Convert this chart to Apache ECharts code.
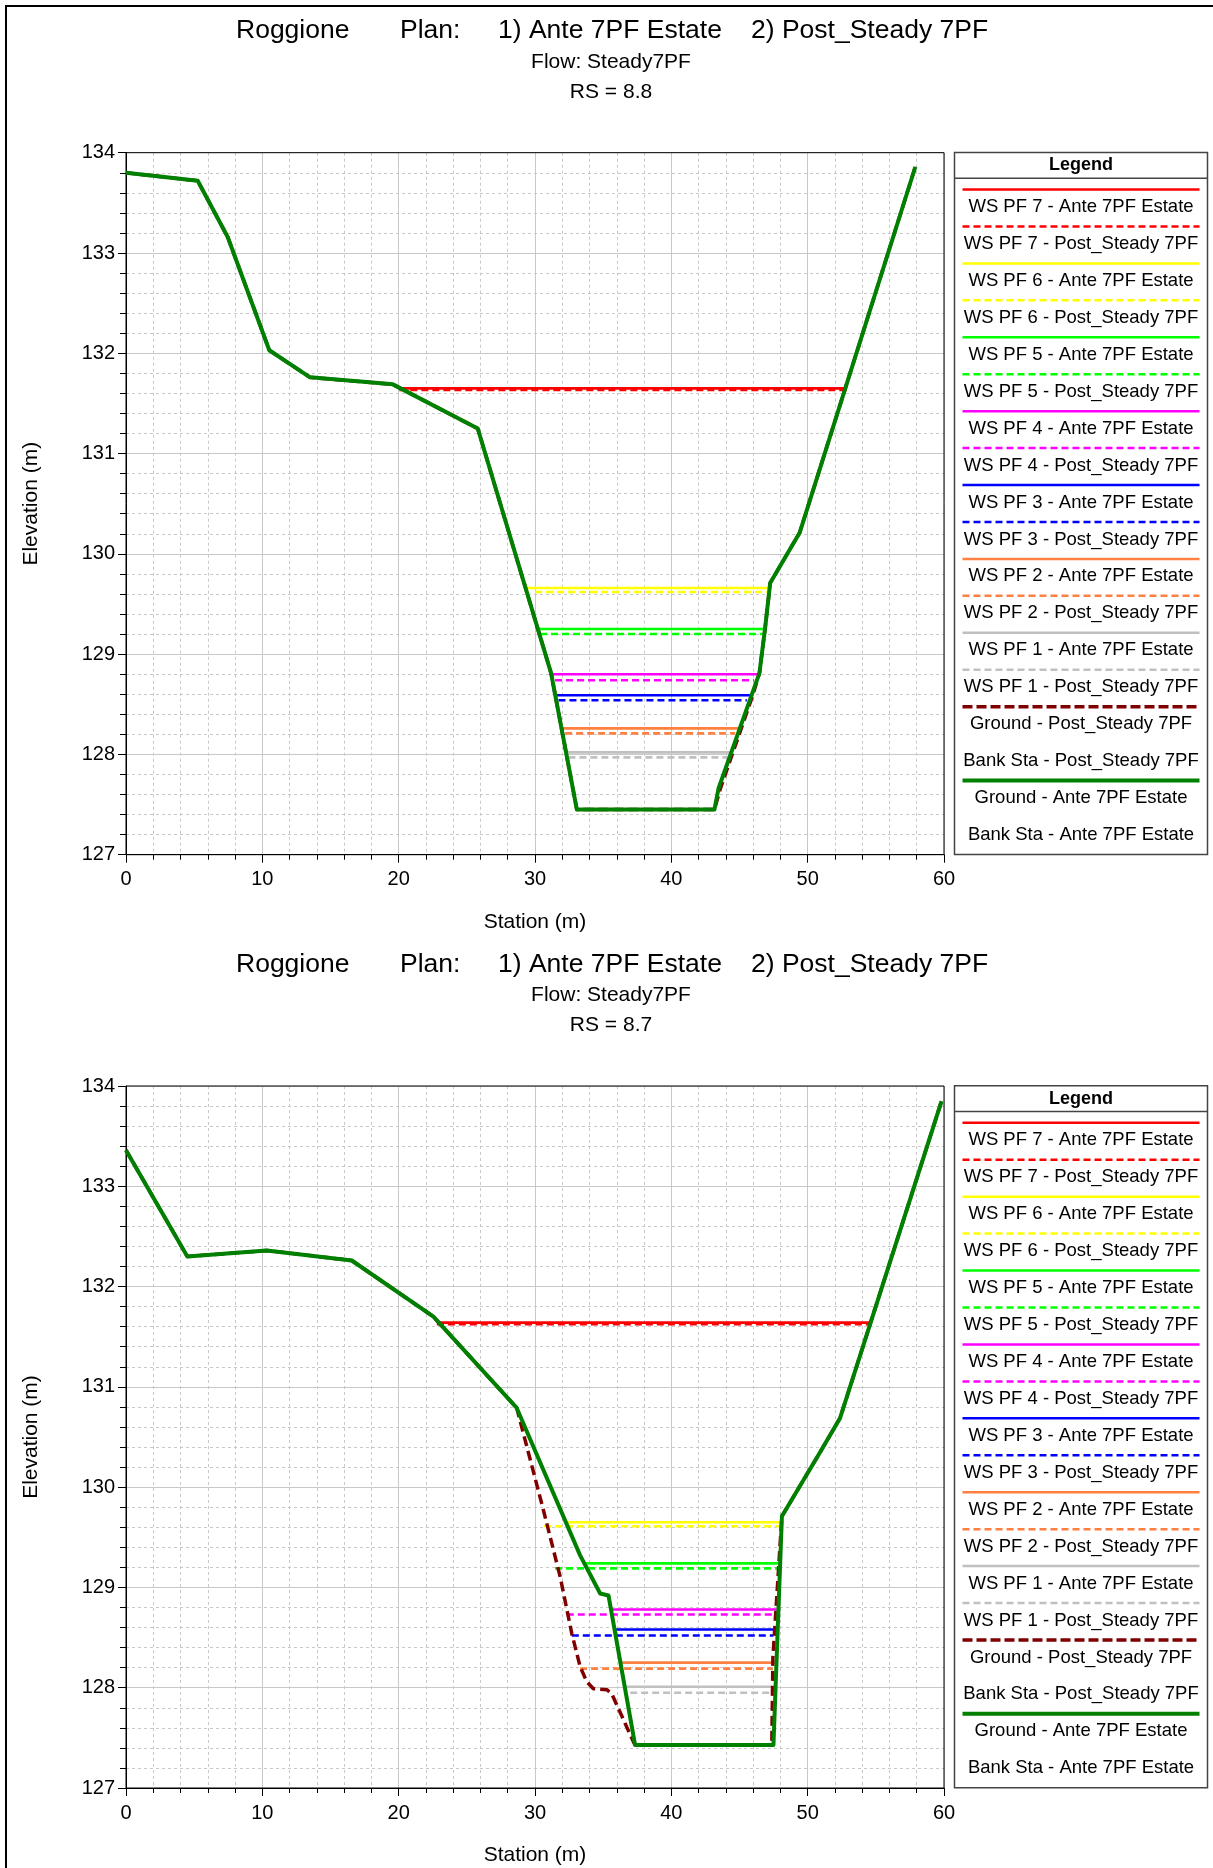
<!DOCTYPE html>
<html>
<head>
<meta charset="utf-8">
<title>Roggione - RS 8.8 / 8.7</title>
<script src="https://cdn.jsdelivr.net/npm/echarts@6/dist/echarts.min.js"></script>
<style>
  html, body { margin: 0; padding: 0; background: #fff; }
  #chart { width: 1213px; height: 1868px; }
</style>
</head>
<body>
<div id="chart"></div>
<script>
const FONT = '"Liberation Sans", Arial, Helvetica, sans-serif';

// Axis ranges: [min, max, interval]
const stationAxis = [0, 60, 10];
const elevationAxis = [127, 134, 1];

// River stations shown, top to bottom
const riverStations = ['8.8', '8.7'];

// Profiles, highest first
const profiles = ['PF 7', 'PF 6', 'PF 5', 'PF 4', 'PF 3', 'PF 2', 'PF 1'];
const profileColors = ['#ff0000', '#ffff00', '#00ff00', '#ff00ff', '#0000ff', '#ff8040', '#c0c0c0'];

// Ground profiles [station, elevation] - RS 8.8
const groundAnte88 = [
  [0, 133.80], [5.26, 133.72], [7.46, 133.16], [10.51, 132.03], [13.5, 131.76],
  [19.57, 131.69], [25.8, 131.25], [31.18, 128.81], [33.07, 127.45], [43.16, 127.45],
  [43.46, 127.66], [46.46, 128.81], [46.88, 129.26], [47.25, 129.71], [49.41, 130.21],
  [57.9, 133.86]
];
const groundPost88 = [
  [0, 133.80], [5.26, 133.72], [7.46, 133.16], [10.51, 132.03], [13.5, 131.76],
  [19.57, 131.69], [25.8, 131.25], [31.18, 128.81], [33.07, 127.45], [43.16, 127.45],
  [43.6, 127.66], [46.0, 128.6], [46.46, 128.81], [46.88, 129.26], [47.25, 129.71],
  [49.41, 130.21], [57.9, 133.86]
];

// Ground profiles [station, elevation] - RS 8.7
const groundAnte87 = [
  [0, 133.36], [4.5, 132.30], [10.32, 132.36], [16.56, 132.26], [22.55, 131.70],
  [28.66, 130.79], [33.31, 129.32], [34.78, 128.94], [35.39, 128.92], [37.34, 127.43],
  [47.49, 127.43], [48.11, 129.71], [50.92, 130.35], [52.38, 130.69], [59.82, 133.85]
];
const groundPost87 = [
  [0, 133.36], [4.5, 132.30], [10.32, 132.36], [16.56, 132.26], [22.55, 131.70],
  [28.66, 130.79], [30.62, 129.77], [31.84, 129.11], [32.7, 128.54], [33.31, 128.21],
  [33.8, 128.06], [34.28, 127.99], [35.27, 127.98], [35.63, 127.94], [37.22, 127.46],
  [37.34, 127.43], [47.37, 127.43], [47.45, 128.3], [48.11, 129.71], [50.92, 130.35],
  [52.38, 130.69], [59.82, 133.85]
];

// Water surfaces [left station, right station, elevation], PF 7 .. PF 1
const wsAnte88 = [
  [20.05, 52.87, 131.65], [29.27, 47.25, 129.66], [30.18, 46.96, 129.25],
  [31.18, 46.46, 128.80], [31.47, 45.98, 128.59], [31.97, 45.10, 128.26],
  [32.28, 44.44, 128.02]
];
const wsPost88 = [
  [20.05, 52.87, 131.635], [30.01, 47.12, 129.62], [30.37, 46.71, 129.20],
  [31.47, 46.07, 128.74], [31.72, 45.54, 128.54], [32.21, 44.68, 128.21],
  [32.45, 44.19, 127.97]
];
const wsAnte87 = [
  [22.8, 54.64, 131.64], [32.33, 48.18, 129.65], [33.75, 47.98, 129.24],
  [35.63, 47.74, 128.78], [35.88, 47.69, 128.58], [36.24, 47.69, 128.25],
  [36.61, 47.69, 128.01]
];
const wsPost87 = [
  [22.8, 54.64, 131.625], [30.67, 47.98, 129.61], [31.47, 47.78, 129.19],
  [32.33, 47.54, 128.73], [32.7, 47.49, 128.52], [33.31, 47.45, 128.19],
  [36.98, 47.37, 127.95]
];

const planAnte = 'Ante 7PF Estate';
const planPost = 'Post_Steady 7PF';
const titlePieces = ['Roggione', 'Plan:', '1) Ante 7PF Estate', '2) Post_Steady 7PF'];
const flowLabel = 'Flow: Steady7PF';

// ---- layout ----
const PANEL_DY = 933.3;
const GRID = { left: 126, top: 152.7, width: 818, height: 702 };
const LEGEND_BOX = { x: 954.5, y: 152.5, w: 253, h: 702 };
const TITLE_X = [236, 400, 498, 751];

const GROUND_GREEN = '#008000';
const GROUND_POST = '#800000';
const WS_DASH = [7, 4];

const panels = [
  { ante: groundAnte88, post: groundPost88, wsA: wsAnte88, wsP: wsPost88 },
  { ante: groundAnte87, post: groundPost87, wsA: wsAnte87, wsP: wsPost87 }
];

const chart = echarts.init(document.getElementById('chart'), null, { renderer: 'canvas' });

const grids = [], xAxes = [], yAxes = [], series = [], graphics = [];

// outer frame
graphics.push({
  type: 'rect', z: 100, silent: true,
  shape: { x: 6, y: 6, width: 1400, height: 2000 },
  style: { fill: 'none', stroke: '#000', lineWidth: 2 }
});

function wsLegendLabel(i, plan) { return 'WS ' + profiles[i] + ' - ' + plan; }

// legend rows: [label, color|null, width, dash]
const legendRows = [];
profiles.forEach((p, i) => {
  legendRows.push([wsLegendLabel(i, planAnte), profileColors[i], 2.5, null]);
  legendRows.push([wsLegendLabel(i, planPost), profileColors[i], 2.5, WS_DASH]);
});
legendRows.push(['Ground - ' + planPost, GROUND_POST, 3.5, [10, 4]]);
legendRows.push(['Bank Sta - ' + planPost, null, 0, null]);
legendRows.push(['Ground - ' + planAnte, GROUND_GREEN, 4, null]);
legendRows.push(['Bank Sta - ' + planAnte, null, 0, null]);

panels.forEach((pn, k) => {
  const dy = k * PANEL_DY;
  grids.push({
    left: GRID.left, top: GRID.top + dy, width: GRID.width, height: GRID.height,
    show: true, borderColor: '#000', borderWidth: 1, backgroundColor: 'transparent', z: 3
  });
  xAxes.push({
    gridIndex: k, type: 'value', min: stationAxis[0], max: stationAxis[1], interval: stationAxis[2],
    name: 'Station (m)', nameLocation: 'middle', nameGap: 57,
    nameTextStyle: { fontFamily: FONT, fontSize: 21, color: '#000' },
    axisLine: { show: true, onZero: false, lineStyle: { color: '#000', width: 1 } },
    axisTick: { show: true, length: 8, lineStyle: { color: '#000' } },
    minorTick: { show: true, splitNumber: 5, length: 5, lineStyle: { color: '#000' } },
    splitLine: { show: true, lineStyle: { color: '#c8c8c8', width: 1 } },
    minorSplitLine: { show: true, lineStyle: { color: '#c8c8c8', width: 1, type: [3, 3] } },
    axisLabel: { fontFamily: FONT, fontSize: 20, color: '#000', margin: 15 }
  });
  yAxes.push({
    gridIndex: k, type: 'value', min: elevationAxis[0], max: elevationAxis[1], interval: elevationAxis[2],
    name: 'Elevation (m)', nameLocation: 'middle', nameGap: 84,
    nameTextStyle: { fontFamily: FONT, fontSize: 21, color: '#000' },
    axisLine: { show: true, onZero: false, lineStyle: { color: '#000', width: 1 } },
    axisTick: { show: true, length: 8, lineStyle: { color: '#000' } },
    minorTick: { show: true, splitNumber: 5, length: 6, lineStyle: { color: '#000' } },
    splitLine: { show: true, lineStyle: { color: '#c8c8c8', width: 1 } },
    minorSplitLine: { show: true, lineStyle: { color: '#c8c8c8', width: 1, type: [3, 3] } },
    axisLabel: { fontFamily: FONT, fontSize: 20, color: '#000', margin: 11 }
  });

  const base = { type: 'line', xAxisIndex: k, yAxisIndex: k, showSymbol: false, symbol: 'none',
                 silent: true, animation: false, clip: true };

  // water surfaces: lowest profile first so higher ones sit on top
  for (let i = profiles.length - 1; i >= 0; i--) {
    const a = pn.wsA[i], p = pn.wsP[i];
    series.push(Object.assign({}, base, {
      name: wsLegendLabel(i, planAnte), z: 3,
      data: [[a[0], a[2]], [a[1], a[2]]],
      lineStyle: { color: profileColors[i], width: 2.6, type: 'solid' }
    }));
    series.push(Object.assign({}, base, {
      name: wsLegendLabel(i, planPost), z: 3,
      data: [[p[0], p[2]], [p[1], p[2]]],
      lineStyle: { color: profileColors[i], width: 2.6, type: WS_DASH }
    }));
  }
  series.push(Object.assign({}, base, {
    name: 'Ground - ' + planPost, z: 4, data: pn.post,
    lineStyle: { color: GROUND_POST, width: 3.5, type: [10, 5] }
  }));
  series.push(Object.assign({}, base, {
    name: 'Ground - ' + planAnte, z: 5, data: pn.ante,
    lineStyle: { color: GROUND_GREEN, width: 4, type: 'solid', join: 'round' }
  }));

  // titles
  titlePieces.forEach((t, i) => {
    graphics.push({
      type: 'text', silent: true, x: TITLE_X[i], y: 31 + dy,
      style: { text: t, font: '26.5px ' + FONT, fill: '#000',
               align: 'left', verticalAlign: 'middle', textAlign: 'left', textVerticalAlign: 'middle' }
    });
  });
  graphics.push({
    type: 'text', silent: true, x: 611, y: 62 + dy,
    style: { text: flowLabel, font: '21px ' + FONT, fill: '#000',
             align: 'center', verticalAlign: 'middle', textAlign: 'center', textVerticalAlign: 'middle' }
  });
  graphics.push({
    type: 'text', silent: true, x: 611, y: 92 + dy,
    style: { text: 'RS = ' + riverStations[k], font: '21px ' + FONT, fill: '#000',
             align: 'center', verticalAlign: 'middle', textAlign: 'center', textVerticalAlign: 'middle' }
  });

  // legend panel
  const bx = LEGEND_BOX.x, by = LEGEND_BOX.y + dy;
  const cx = bx + LEGEND_BOX.w / 2;
  graphics.push({
    type: 'rect', silent: true,
    shape: { x: bx, y: by, width: LEGEND_BOX.w, height: LEGEND_BOX.h },
    style: { fill: '#fff', stroke: '#444', lineWidth: 1.5 }
  });
  graphics.push({
    type: 'line', silent: true,
    shape: { x1: bx, y1: by + 25.8, x2: bx + LEGEND_BOX.w, y2: by + 25.8 },
    style: { stroke: '#444', lineWidth: 1.5 }
  });
  graphics.push({
    type: 'text', silent: true, x: cx, y: by + 13,
    style: { text: 'Legend', font: 'bold 18px ' + FONT, fill: '#000',
             align: 'center', verticalAlign: 'middle', textAlign: 'center', textVerticalAlign: 'middle' }
  });
  legendRows.forEach((r, i) => {
    const ty = by + 54.5 + 36.94 * i;
    if (r[1]) {
      graphics.push({
        type: 'line', silent: true,
        shape: { x1: bx + 8, y1: ty - 17.5, x2: bx + 245, y2: ty - 17.5 },
        style: { stroke: r[1], lineWidth: r[2], lineDash: r[3] || null }
      });
    }
    graphics.push({
      type: 'text', silent: true, x: cx, y: ty,
      style: { text: r[0], font: '18.5px ' + FONT, fill: '#000',
               align: 'center', verticalAlign: 'middle', textAlign: 'center', textVerticalAlign: 'middle' }
    });
  });
});

chart.setOption({
  backgroundColor: '#fff',
  animation: false,
  grid: grids,
  xAxis: xAxes,
  yAxis: yAxes,
  series: series,
  graphic: { elements: graphics }
});
</script>
</body>
</html>
